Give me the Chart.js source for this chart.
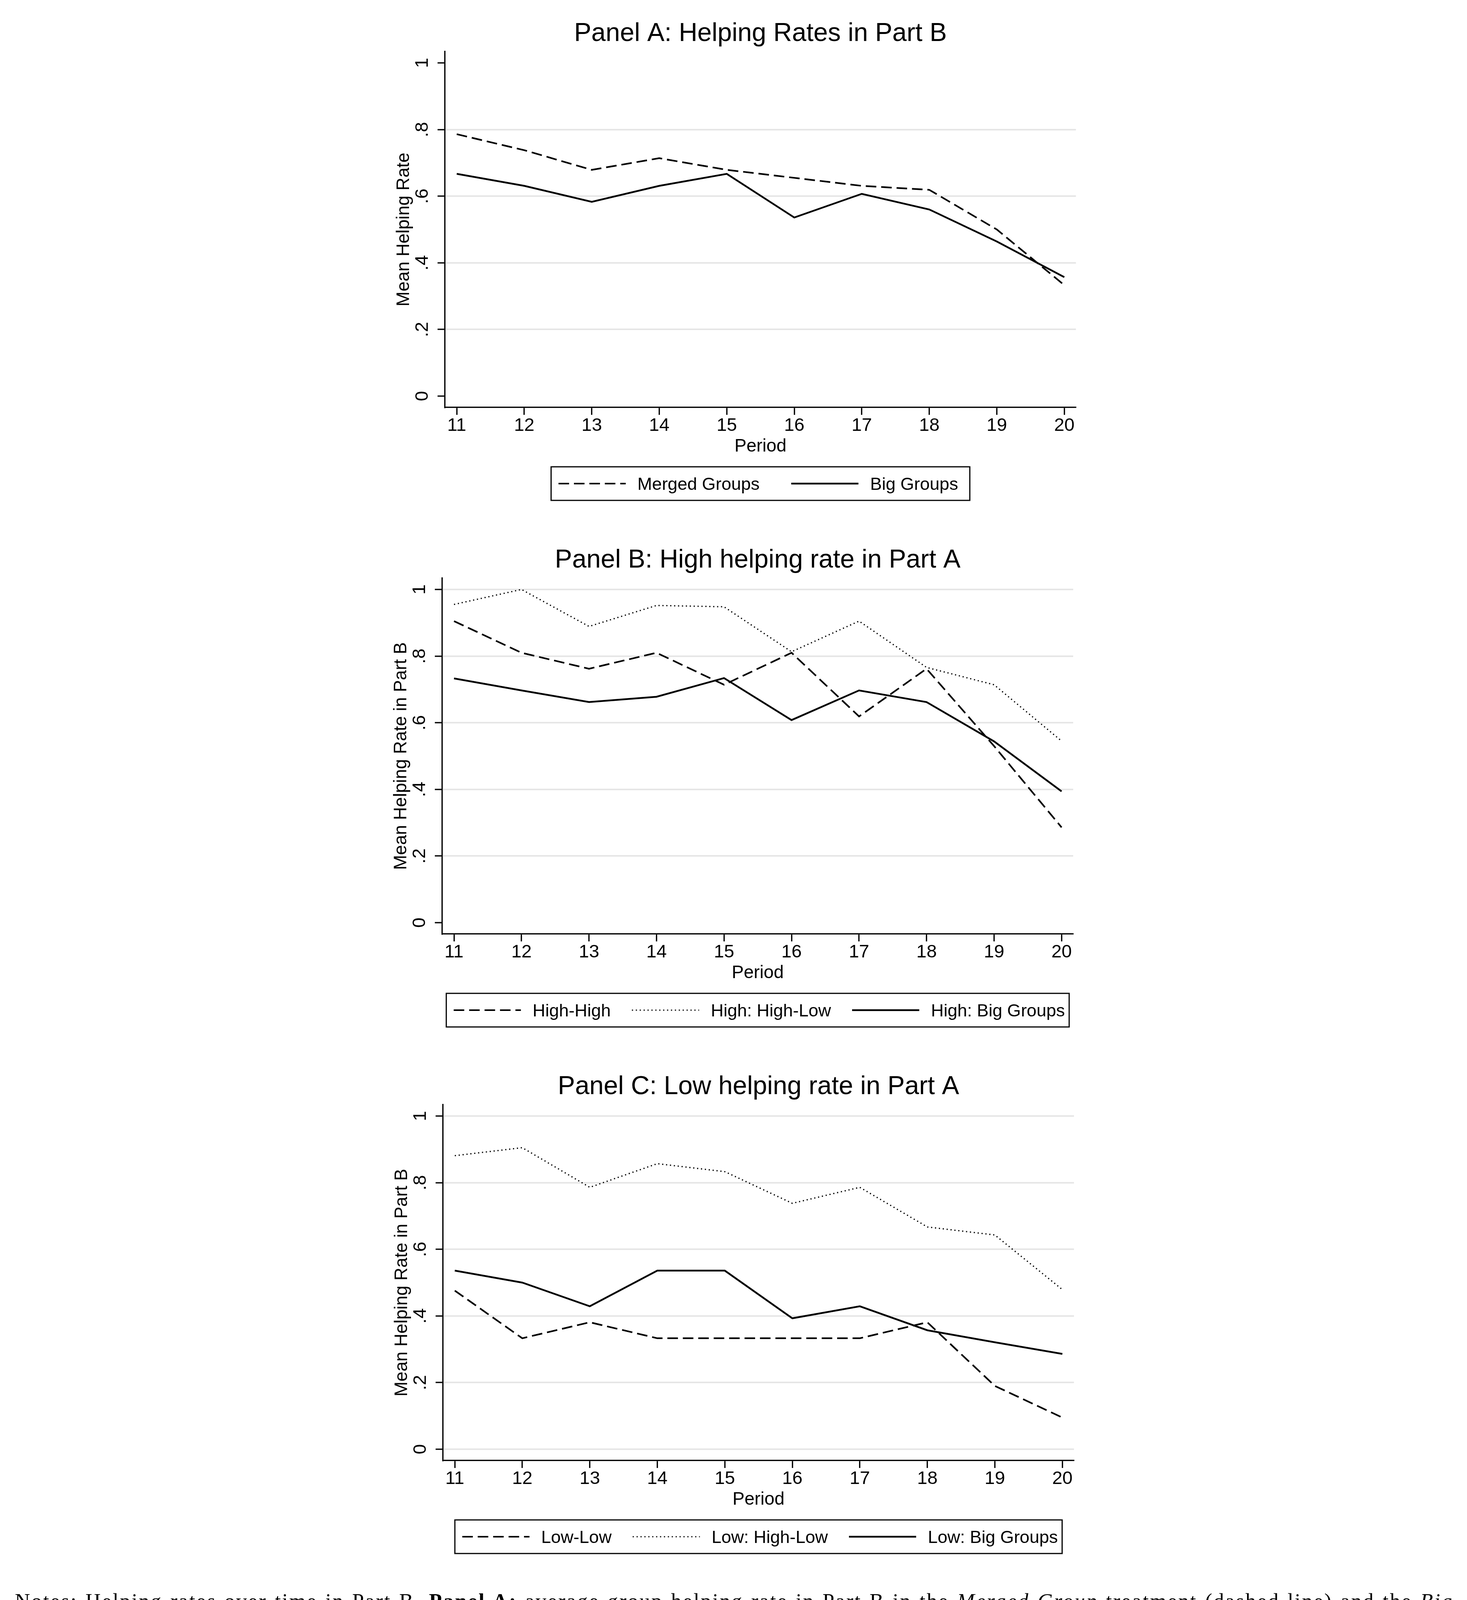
<!DOCTYPE html>
<html lang="en">

<head>
  <meta charset="UTF-8">
  <title>Helping Rates</title>
  <script src="https://cdn.jsdelivr.net/npm/chart.js"></script>
  <style>
    body {
      margin: 0;
      background: #fff;
      width: 3755px;
      height: 4491px;
      position: relative;
      overflow: hidden;
    }

    .painel {
      position: absolute;
      left: 0;
      width: 3755px;
      height: 1348px;
    }

    .notas {
      position: absolute;
      left: 38px;
      top: 4066px;
      width: 3682px;
      font-family: 'Liberation Serif', 'Times New Roman', serif;
      font-size: 54px;
      line-height: 66.3px;
      color: #000;
    }

    .notas div {
      text-align: justify;
      text-align-last: justify;
    }

    .notas div.ultima {
      text-align-last: left;
    }
  </style>
</head>

<body>

  <canvas id="painel-a" class="painel" width="3755" height="1348" style="top: 0px;"></canvas>
  <canvas id="painel-b" class="painel" width="3755" height="1348" style="top: 1348px;"></canvas>
  <canvas id="painel-c" class="painel" width="3755" height="1348" style="top: 2696px;"></canvas>

  <div class="notas">
    <div>Notes: Helping rates over time in Part B. <b>Panel A:</b> average group helping rate in Part B in the <i>Merged Group</i> treatment (dashed line) and the <i>Big</i></div>
    <div><i>Group</i> treatment (solid line). <b>Panel B:</b> average group helping rate in Part B for groups with a high helping norm in Part A for <i>High-High</i> merged</div>
    <div>groups (dashed line), high helping norm groups in the <i>High-High</i> merged groups (dotted line) and groups with high helping norms in Part A in</div>
    <div>the <i>Big Group</i> treatment (solid line). <b>Panel C:</b> average group helping rate in Part B for groups with a low helping norm in Part A for <i>Low-Low</i></div>
    <div>merged groups (dashed line), low helping norm groups in the <i>High-Low</i> merged groups (dotted line) and groups with low helping norms in Part</div>
    <div class="ultima">A in the <i>Big Group</i> treatment (solid line).</div>
  </div>

</body>

</html>

<script>

  // eixo x e eixo y
  const periodos = [11, 12, 13, 14, 15, 16, 17, 18, 19, 20];
  const valoresY = [0, 0.2, 0.4, 0.6, 0.8, 1];
  const rotulosY = ['0', '.2', '.4', '.6', '.8', '1'];

  // Painel A
  const grupoMesclado = [0.786, 0.738, 0.679, 0.714, 0.679, 0.655, 0.631, 0.619, 0.500, 0.333];
  const grupoGrande = [0.667, 0.631, 0.583, 0.631, 0.667, 0.536, 0.607, 0.560, 0.464, 0.357];

  // Painel B
  const altoAlto = [0.905, 0.810, 0.762, 0.810, 0.714, 0.810, 0.619, 0.762, 0.530, 0.286];
  const altoAltoBaixo = [0.955, 1.000, 0.889, 0.952, 0.948, 0.813, 0.905, 0.766, 0.714, 0.545];
  const altoGrande = [0.733, 0.697, 0.662, 0.678, 0.734, 0.608, 0.697, 0.662, 0.544, 0.394];

  // Painel C
  const baixoBaixo = [0.476, 0.333, 0.381, 0.333, 0.333, 0.333, 0.333, 0.381, 0.190, 0.095];
  const baixoAltoBaixo = [0.881, 0.905, 0.786, 0.857, 0.833, 0.738, 0.786, 0.667, 0.643, 0.479];
  const baixoGrande = [0.536, 0.500, 0.429, 0.536, 0.536, 0.393, 0.429, 0.357, 0.321, 0.286];

  // linhas de grade que aparecem em cada painel
  const gradeA = [0.2, 0.4, 0.6, 0.8];
  const gradeB = [0.2, 0.4, 0.6, 0.8, 1];
  const gradeC = [0, 0.2, 0.4, 0.6, 0.8, 1];

  const fonte = "'Liberation Sans', Arial, sans-serif";

  const tracejada = { borderDash: [27, 12.5], borderWidth: 4.2 };
  const pontilhada = { borderDash: [3, 7], borderWidth: 3.2 };
  const solida = { borderDash: [], borderWidth: 4.5 };

  function serie(label, valores, estilo) {
    return {
      label: label,
      data: periodos.map((p, i) => ({ x: p, y: valores[i] })),
      borderColor: '#000',
      backgroundColor: '#000',
      borderWidth: estilo.borderWidth,
      borderDash: estilo.borderDash,
      pointRadius: 0,
      tension: 0,
      fill: false
    };
  }

  // titulo, titulos dos eixos e legenda com caixa
  const decoracao = {
    id: 'decoracao',
    afterDraw(chart, args, op) {
      const ctx = chart.ctx;
      const area = chart.chartArea;
      const meioX = (area.left + area.right) / 2;

      ctx.save();
      ctx.fillStyle = '#000';
      ctx.textBaseline = 'alphabetic';

      ctx.font = '66px ' + fonte;
      ctx.textAlign = 'center';
      ctx.fillText(op.titulo, meioX, area.top - 27);

      ctx.font = '46px ' + fonte;
      ctx.fillText('Period', meioX, area.bottom + 113);

      ctx.save();
      ctx.translate(area.left - 92, (area.top + area.bottom) / 2);
      ctx.rotate(-Math.PI / 2);
      ctx.fillText(op.eixoY, 0, 0);
      ctx.restore();

      // legenda
      ctx.font = '45px ' + fonte;
      ctx.textAlign = 'left';
      const itens = chart.data.datasets.map(ds => ({ ds: ds, w: ctx.measureText(ds.label).width }));
      const amostra = 172, gapTexto = 30, padE = 19;
      let largura = padE + op.padD + op.gapItem * (itens.length - 1);
      itens.forEach(it => { largura += amostra + gapTexto + it.w; });

      const x0 = meioX - largura / 2;
      const topo = area.bottom + 152;
      const alt = 86;
      const yMeio = topo + alt / 2;

      ctx.strokeStyle = '#000';
      ctx.lineWidth = 3;
      ctx.setLineDash([]);
      ctx.strokeRect(x0, topo, largura, alt);

      let x = x0 + padE;
      itens.forEach(it => {
        ctx.beginPath();
        ctx.setLineDash(it.ds.borderDash);
        ctx.lineWidth = it.ds.borderWidth;
        ctx.moveTo(x, yMeio);
        ctx.lineTo(x + amostra, yMeio);
        ctx.stroke();
        ctx.setLineDash([]);
        x += amostra + gapTexto;
        ctx.fillText(it.ds.label, x, yMeio + 16);
        x += it.w + op.gapItem;
      });

      ctx.restore();
    }
  };

  function montarPainel(id, titulo, eixoY, datasets, esquerda, grade, gapItem, padD) {
    const larguraTela = 3755, alturaTela = 1348;
    const topo = 132, base = 1043, direita = esquerda + 1615;

    new Chart(document.getElementById(id), {
      type: 'line',
      data: { datasets: datasets },
      plugins: [decoracao],
      options: {
        responsive: false,
        animation: false,
        devicePixelRatio: 1,
        layout: {
          padding: { left: 0, top: topo, right: larguraTela - direita, bottom: alturaTela - base - 100 }
        },
        plugins: {
          legend: { display: false },
          title: { display: false },
          tooltip: { enabled: false },
          decoracao: { titulo: titulo, eixoY: eixoY, gapItem: gapItem, padD: padD }
        },
        scales: {
          x: {
            type: 'linear',
            min: 10.826,
            max: 20.172,
            afterFit: s => { s.height = 100; },
            afterBuildTicks: s => { s.ticks = periodos.map(v => ({ value: v })); },
            grid: {
              drawOnChartArea: false,
              drawTicks: true,
              tickLength: 19,
              tickWidth: 3.3,
              tickColor: '#000'
            },
            border: { display: true, color: '#000', width: 3.3 },
            ticks: {
              color: '#000',
              font: { family: fonte, size: 47 },
              padding: 0,
              maxRotation: 0,
              autoSkip: false,
              callback: v => String(v)
            }
          },
          y: {
            type: 'linear',
            min: -0.034,
            max: 1.034,
            afterFit: s => { s.width = esquerda; },
            afterBuildTicks: s => { s.ticks = valoresY.map(v => ({ value: v })); },
            grid: {
              color: c => (c.tick && grade.some(g => Math.abs(g - c.tick.value) < 1e-6)) ? '#e6e6e6' : 'rgba(0,0,0,0)',
              lineWidth: 4,
              drawTicks: true,
              tickLength: 19,
              tickWidth: 3.3,
              tickColor: '#000'
            },
            border: { display: true, color: '#000', width: 3.3 },
            ticks: {
              color: '#000',
              font: { family: fonte, size: 47 },
              minRotation: 90,
              maxRotation: 90,
              crossAlign: 'center',
              padding: 18,
              autoSkip: false,
              callback: (v, i) => rotulosY[i]
            }
          }
        }
      }
    });
  }

  montarPainel('painel-a', 'Panel A: Helping Rates in Part B', 'Mean Helping Rate', [
    serie('Merged Groups', grupoMesclado, tracejada),
    serie('Big Groups', grupoGrande, solida)
  ], 1139, gradeA, 81, 30);

  montarPainel('painel-b', 'Panel B: High helping rate in Part A', 'Mean Helping Rate in Part B', [
    serie('High-High', altoAlto, tracejada),
    serie('High: High-Low', altoAltoBaixo, pontilhada),
    serie('High: Big Groups', altoGrande, solida)
  ], 1132, gradeB, 54, 11);

  montarPainel('painel-c', 'Panel C: Low helping rate in Part A', 'Mean Helping Rate in Part B', [
    serie('Low-Low', baixoBaixo, tracejada),
    serie('Low: High-Low', baixoAltoBaixo, pontilhada),
    serie('Low: Big Groups', baixoGrande, solida)
  ], 1134, gradeC, 54, 11);

  // a fonte serifada disponivel e mais estreita que a original: abre um pouco as letras
  const notas = document.querySelector('.notas');
  const linhas = Array.from(notas.querySelectorAll('div')).filter(l => !l.classList.contains('ultima'));
  let folga = Infinity;
  linhas.forEach(l => {
    l.style.display = 'inline-block';
    l.style.whiteSpace = 'nowrap';
    const w = l.getBoundingClientRect().width;
    folga = Math.min(folga, (3682 - w) / l.textContent.length);
    l.style.display = '';
    l.style.whiteSpace = '';
  });
  if (folga > 0 && folga < 20) notas.style.letterSpacing = (folga * 0.85).toFixed(2) + 'px';

</script>
